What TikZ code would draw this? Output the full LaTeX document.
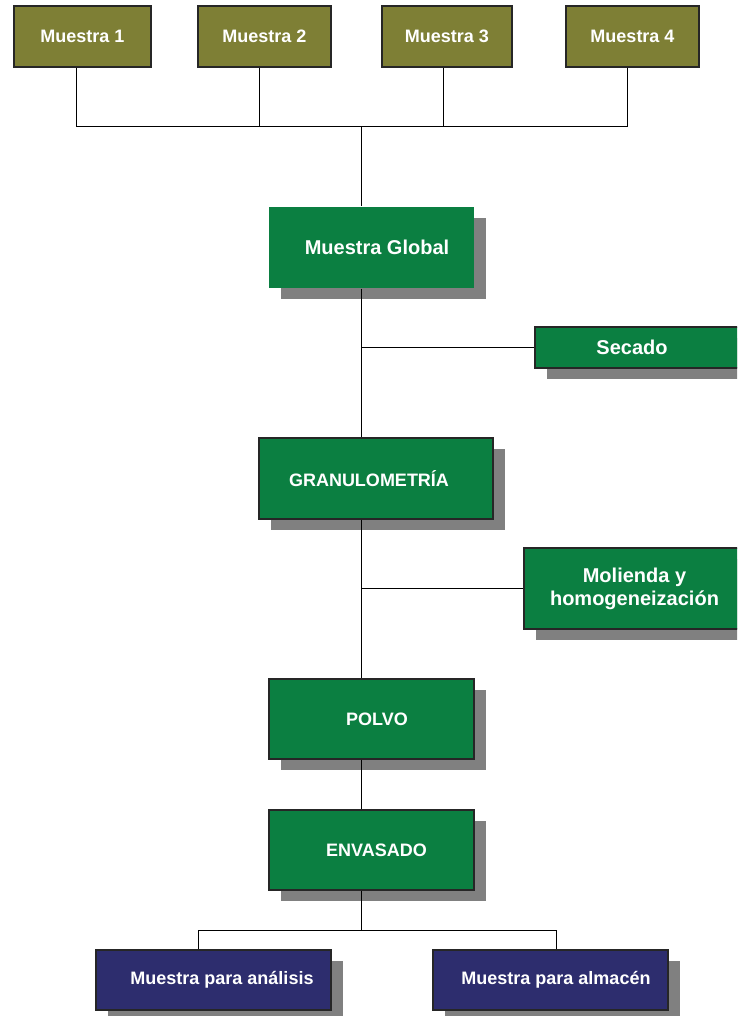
\documentclass[tikz,border=0pt]{standalone}
\usepackage{fontspec}
\setmainfont{Liberation Sans}
\usetikzlibrary{shadows,positioning}
\definecolor{olivebg}{RGB}{126,127,53}
\definecolor{greenbg}{RGB}{11,127,65}
\definecolor{navybg}{RGB}{45,45,110}
\newcommand{\bigtxt}{\bfseries\fontsize{20}{23}\selectfont}
\newcommand{\medtxt}{\bfseries\fontsize{18}{21}\selectfont}
\tikzset{
  blk/.style    = {inner sep=0pt, text=white, font=\medtxt, line width=1.2pt, draw=black!85},
  sample/.style = {blk, fill=olivebg, minimum height=61pt},
  shd/.style    = {drop shadow={shadow xshift=12pt, shadow yshift=-11pt, opacity=1, fill=black!50}},
  stage/.style  = {blk, shd, fill=greenbg, minimum height=81pt},
  final/.style  = {blk, shd, fill=navybg, minimum width=235pt, minimum height=60pt},
  ln/.style     = {line width=1pt, black}
}
\begin{document}
\begin{tikzpicture}[x=1pt, y=-1pt]
\path[use as bounding box, clip] (0,0) rectangle (737,1016);

% the four samples
\node[sample, minimum width=137pt] (m1) at (82.5,36.5) {Muestra 1};
\node[sample, minimum width=133pt] (m2) at (264.5,36.5) {Muestra 2};
\node[sample, minimum width=130pt] (m3) at (447,36.5) {Muestra 3};
\node[sample, minimum width=133pt] (m4) at (632.5,36.5) {Muestra 4};
\coordinate (bus) at (361,127);

% main line
\node[stage, draw=none, minimum width=205pt, font=\bigtxt] (global) at (371.5,247.5) {\hspace{11pt}Muestra Global};
\node[stage, minimum width=210pt, minimum height=41pt, font=\bigtxt] (secado) at (640,347.5) {\hspace{-16pt}Secado};
\node[stage, minimum width=234pt] (granulo) at (376,478.5) {\hspace{-14pt}GRANULOMETRÍA};
\node[stage, minimum width=221pt, align=center, font=\bigtxt] (molienda) at (634.5,588.5)
  {Molienda y\\homogeneización};
\node[stage, minimum width=205pt, minimum height=80pt] (polvo) at (371.5,719) {\hspace{11pt}POLVO};
\node[stage, minimum width=205pt, minimum height=80pt] (envasado) at (371.5,850) {\hspace{10pt}ENVASADO};
\coordinate (split) at (361,930);

% the two portions
\node[final] (analisis) at (213.5,980) {\hspace{17pt}Muestra para análisis};
\node[final] (almacen) at (550.5,980) {\hspace{11pt}Muestra para almacén};

\draw[ln] ([xshift=-6.5pt]m1.south) |- (bus);
\draw[ln] ([xshift=-5.5pt]m2.south) |- (bus);
\draw[ln] ([xshift=-4pt]m3.south) |- (bus);
\draw[ln] ([xshift=-5.5pt]m4.south) |- (bus);
\draw[ln] (bus) -- (bus |- global.north);
\draw[ln] (global.south -| bus) -- (granulo.north -| bus);
\draw[ln] (secado.west) -- (secado.west -| bus);
\draw[ln] (granulo.south -| bus) -- (polvo.north -| bus);
\draw[ln] (molienda.west) -- (molienda.west -| bus);
\draw[ln] (polvo.south -| bus) -- (envasado.north -| bus);
\draw[ln] (envasado.south -| split) -- (split);
\draw[ln] (split) -| ([xshift=-15.5pt]analisis.north);
\draw[ln] (split) -| ([xshift=5.5pt]almacen.north);
\end{tikzpicture}
\end{document}
